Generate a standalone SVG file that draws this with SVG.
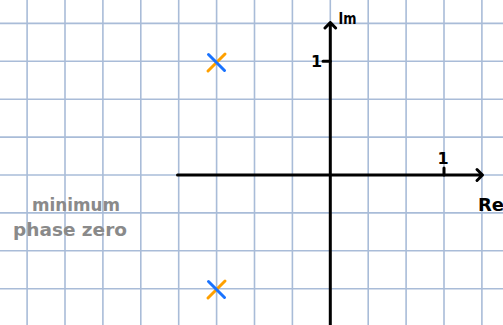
<svg xmlns="http://www.w3.org/2000/svg" width="503" height="325" viewBox="0 0 503 325">
<style>
.grid line{stroke:#a9bcd8;stroke-width:1.6}
.ax{stroke:#000;stroke-width:3;fill:none;stroke-linecap:round;stroke-linejoin:round}
.lbl{font-family:"DejaVu Sans",sans-serif;font-weight:bold;fill:#000}
.note{font-family:"DejaVu Sans",sans-serif;fill:#8a8a8a;font-size:17px;font-weight:bold}
.blue{stroke:#1a73ff;stroke-width:3;stroke-linecap:round}
.orange{stroke:#ffa000;stroke-width:3;stroke-linecap:round}
</style>
<rect width="503" height="325" fill="#fff"/>
<g class="grid" id="grid">
<line x1="27.1" y1="0" x2="27.1" y2="325"/>
<line x1="65" y1="0" x2="65" y2="325"/>
<line x1="102.9" y1="0" x2="102.9" y2="325"/>
<line x1="140.8" y1="0" x2="140.8" y2="325"/>
<line x1="178.7" y1="0" x2="178.7" y2="325"/>
<line x1="216.6" y1="0" x2="216.6" y2="325"/>
<line x1="254.5" y1="0" x2="254.5" y2="325"/>
<line x1="292.4" y1="0" x2="292.4" y2="325"/>
<line x1="330.3" y1="0" x2="330.3" y2="325"/>
<line x1="368.2" y1="0" x2="368.2" y2="325"/>
<line x1="406.1" y1="0" x2="406.1" y2="325"/>
<line x1="444" y1="0" x2="444" y2="325"/>
<line x1="481.9" y1="0" x2="481.9" y2="325"/>
<line x1="0" y1="23.4" x2="503" y2="23.4"/>
<line x1="0" y1="61.3" x2="503" y2="61.3"/>
<line x1="0" y1="99.2" x2="503" y2="99.2"/>
<line x1="0" y1="137.1" x2="503" y2="137.1"/>
<line x1="0" y1="175" x2="503" y2="175"/>
<line x1="0" y1="212.9" x2="503" y2="212.9"/>
<line x1="0" y1="250.8" x2="503" y2="250.8"/>
<line x1="0" y1="288.7" x2="503" y2="288.7"/>
</g>
<g id="connectors">
<path class="ax" d="M177.5 175 H482.5 M477 169.5 L482.5 175 L477 180.5"/>
<path class="ax" d="M330.3 326 V22.5 M325 28 L330.3 22.5 L335.6 28"/>
<path class="ax" d="M444 168 V175 M323 61.3 H330.3"/>
</g>
<g id="label-im"><text class="lbl" x="338.5" y="24" font-size="16" textLength="18" lengthAdjust="spacingAndGlyphs">Im</text></g>
<g id="label-re"><text class="lbl" x="478" y="211" font-size="18">Re</text></g>
<g id="tick-re1"><text class="lbl" x="443" y="164" font-size="16" text-anchor="middle">1</text></g>
<g id="tick-im1"><text class="lbl" x="316.5" y="67" font-size="16" text-anchor="middle">1</text></g>
<g id="pole-top">
<line class="orange" x1="208" y1="71" x2="225" y2="54"/>
<line class="blue" x1="208.5" y1="54.5" x2="224.5" y2="70.5"/>
</g>
<g id="pole-bottom">
<line class="orange" x1="208" y1="298" x2="225" y2="281"/>
<line class="blue" x1="208.5" y1="281.5" x2="224.5" y2="297.5"/>
</g>
<g id="note">
<text class="note" x="76" y="211" text-anchor="middle" textLength="88" lengthAdjust="spacingAndGlyphs">minimum</text>
<text class="note" x="70" y="236" text-anchor="middle" font-size="20" textLength="114" lengthAdjust="spacingAndGlyphs">phase zero</text>
</g>
</svg>
